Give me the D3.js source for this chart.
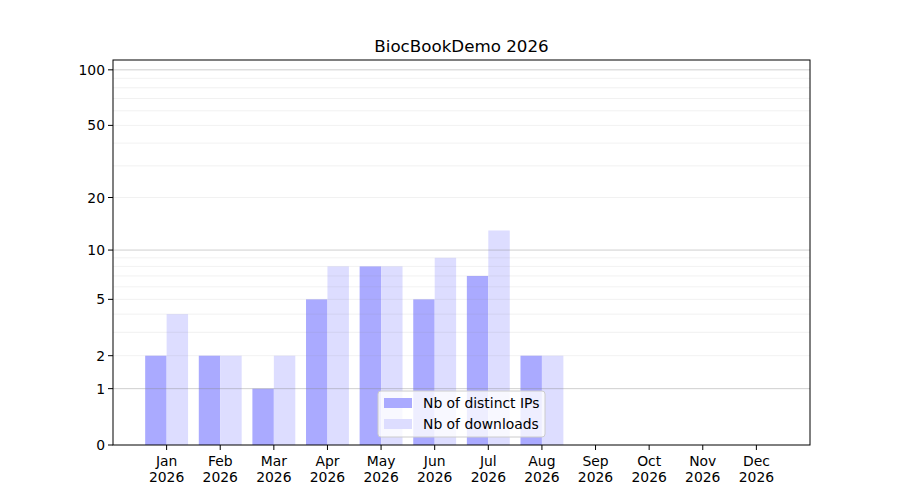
<!DOCTYPE html>
<html>
<head>
<meta charset="utf-8">
<script src="https://cdn.jsdelivr.net/npm/d3@7"></script>
<style>
  body { margin: 0; background: #fff; }
  text { font-family: "DejaVu Sans", sans-serif; fill: #000; }
</style>
</head>
<body>
<svg id="canvas" width="900" height="500"></svg>
<script>
const months = ["Jan", "Feb", "Mar", "Apr", "May", "Jun", "Jul", "Aug", "Sep", "Oct", "Nov", "Dec"];
const year = "2026";
const distinctIPs = [2, 2, 1, 5, 8, 5, 7, 2, 0, 0, 0, 0];
const downloads = [4, 2, 2, 8, 8, 9, 13, 2, 0, 0, 0, 0];
const yTicks = [0, 1, 2, 5, 10, 20, 50, 100];
const majorGrid = [1, 10, 100];
const minorGrid = [2, 3, 4, 5, 6, 7, 8, 9, 20, 30, 40, 50, 60, 70, 80, 90];

const colors = ["#aaaaff", "#ddddff"];
const labels = ["Nb of distinct IPs", "Nb of downloads"];

const svg = d3.select("#canvas");
const plotLeft = 113, plotRight = 810, plotTop = 60, plotBottom = 445;
const fontSize = 13.9;

const x = d3.scaleLinear().domain([-1, 12]).range([plotLeft, plotRight]);
const step = x(1) - x(0);
const barW = step * 0.4;

// log10(1 + v) scale
const logScale = d3.scaleLinear().domain([0, Math.log10(1 + 113)]).range([plotBottom, plotTop]);
const y = v => logScale(Math.log10(1 + v));

// bars
svg.append("g").selectAll("rect")
  .data(distinctIPs)
  .enter()
  .append("rect")
  .attr("x", (d, i) => x(i) - barW)
  .attr("width", barW)
  .attr("y", d => y(d))
  .attr("height", d => plotBottom - y(d))
  .attr("fill", colors[0]);

svg.append("g").selectAll("rect")
  .data(downloads)
  .enter()
  .append("rect")
  .attr("x", (d, i) => x(i))
  .attr("width", barW)
  .attr("y", d => y(d))
  .attr("height", d => plotBottom - y(d))
  .attr("fill", colors[1]);

// grid over bars
svg.append("g").selectAll("line")
  .data(minorGrid)
  .enter()
  .append("line")
  .attr("x1", plotLeft).attr("x2", plotRight)
  .attr("y1", d => y(d)).attr("y2", d => y(d))
  .attr("stroke", "#888").attr("stroke-opacity", 0.15).attr("stroke-width", 0.8);

svg.append("g").selectAll("line")
  .data(majorGrid)
  .enter()
  .append("line")
  .attr("x1", plotLeft).attr("x2", plotRight)
  .attr("y1", d => y(d)).attr("y2", d => y(d))
  .attr("stroke", "#888").attr("stroke-opacity", 0.5).attr("stroke-width", 0.8);

// axes frame
svg.append("rect")
  .attr("x", plotLeft).attr("y", plotTop)
  .attr("width", plotRight - plotLeft).attr("height", plotBottom - plotTop)
  .attr("fill", "none").attr("stroke", "#000").attr("stroke-width", 1);

// y ticks
const yg = svg.append("g");
yTicks.forEach(t => {
  yg.append("line")
    .attr("x1", plotLeft - 5).attr("x2", plotLeft)
    .attr("y1", y(t)).attr("y2", y(t))
    .attr("stroke", "#000");
  yg.append("text")
    .attr("x", plotLeft - 8).attr("y", y(t))
    .attr("text-anchor", "end")
    .attr("dominant-baseline", "central")
    .attr("font-size", fontSize)
    .text(t);
});

// x ticks
const xg = svg.append("g");
months.forEach((m, i) => {
  xg.append("line")
    .attr("x1", x(i)).attr("x2", x(i))
    .attr("y1", plotBottom).attr("y2", plotBottom + 5)
    .attr("stroke", "#000");
  xg.append("text")
    .attr("x", x(i)).attr("y", plotBottom + 21)
    .attr("text-anchor", "middle")
    .attr("font-size", fontSize)
    .text(m);
  xg.append("text")
    .attr("x", x(i)).attr("y", plotBottom + 37)
    .attr("text-anchor", "middle")
    .attr("font-size", fontSize)
    .text(year);
});

// title
svg.append("text")
  .attr("x", (plotLeft + plotRight) / 2).attr("y", 52)
  .attr("text-anchor", "middle")
  .attr("font-size", 16.7)
  .text("BiocBookDemo " + year);

// legend
const lg = svg.append("g").attr("transform", "translate(378, 391)");
lg.append("rect")
  .attr("width", 167).attr("height", 46)
  .attr("rx", 3)
  .attr("fill", "#fff").attr("fill-opacity", 0.8)
  .attr("stroke", "#ccc");
labels.forEach((l, i) => {
  lg.append("rect")
    .attr("x", 6).attr("y", 7 + i * 21)
    .attr("width", 28).attr("height", 10)
    .attr("fill", colors[i]);
  lg.append("text")
    .attr("x", 45).attr("y", 12 + i * 21)
    .attr("dominant-baseline", "central")
    .attr("font-size", fontSize)
    .text(l);
});
</script>
</body>
</html>
